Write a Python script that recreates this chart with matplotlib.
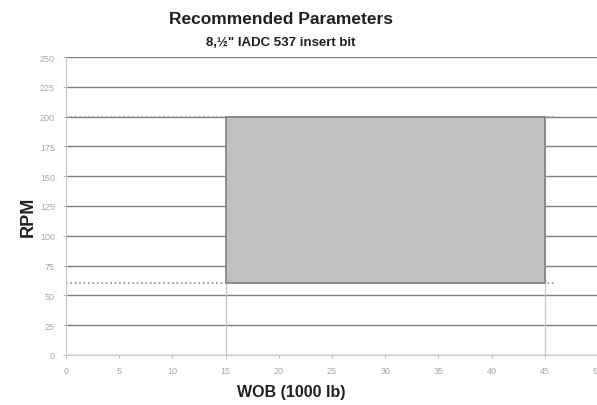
import matplotlib
matplotlib.use("Agg")
import matplotlib.pyplot as plt
from matplotlib.patches import Rectangle

plt.rcParams["font.family"] = ["Liberation Sans", "DejaVu Sans"]

# recommended operating window
wob_range = [15, 45]      # 1000 lb
rpm_range = [60, 200]

x_ticks = [0, 5, 10, 15, 20, 25, 30, 35, 40, 45, 50]
y_ticks = [0, 25, 50, 75, 100, 125, 150, 175, 200, 225, 250]

fig = plt.figure(figsize=(5.97, 4.06), dpi=100)
ax = fig.add_axes([66 / 597, 1 - 356 / 406, 532 / 597, 298 / 406])

ax.set_xlim(0, 50)
ax.set_ylim(0, 250)
ax.set_xticks(x_ticks)
ax.set_yticks(y_ticks)
ax.tick_params(axis="both", labelsize=6.5, colors="#a8a8a8", length=2, width=0.6, pad=6)
ax.grid(True, axis="y", color="#808080", linewidth=1.0)
ax.set_axisbelow(True)

for side in ["top", "right"]:
    ax.spines[side].set_visible(False)
for side in ["left", "bottom"]:
    ax.spines[side].set_color("#c8c8c8")
    ax.spines[side].set_linewidth(0.8)

# dotted limit lines
ax.plot([0, 46], [rpm_range[1]] * 2, color="#909090", linestyle=":", linewidth=1.2, zorder=2)
ax.plot([0, 46], [rpm_range[0]] * 2, color="#909090", linestyle=":", linewidth=1.2, zorder=2)
for w in wob_range:
    ax.plot([w, w], [0, rpm_range[1]], color="#c8c8c8", linewidth=0.9, zorder=2)

# recommended window
ax.add_patch(Rectangle((wob_range[0], rpm_range[0]),
                       wob_range[1] - wob_range[0], rpm_range[1] - rpm_range[0],
                       facecolor="#c0c0c0", edgecolor="#808080", linewidth=1.2, zorder=3))

fig.text(281 / 597, 1 - 20 / 406, "Recommended Parameters", ha="center", va="center",
         fontsize=12.5, fontweight="bold", color="#202020")
fig.text(281 / 597, 1 - 43 / 406, "8,\u00bd\" IADC 537 insert bit", ha="center", va="center",
         fontsize=9.5, fontweight="bold", color="#202020")
fig.text(291 / 597, 1 - 393 / 406, "WOB (1000 lb)", ha="center", va="center",
         fontsize=11.5, fontweight="bold", color="#202020")
fig.text(28 / 597, 1 - 217 / 406, "RPM", ha="center", va="center", rotation=90,
         fontsize=13, fontweight="bold", color="#202020")

fig.savefig("out.png", dpi=100)
